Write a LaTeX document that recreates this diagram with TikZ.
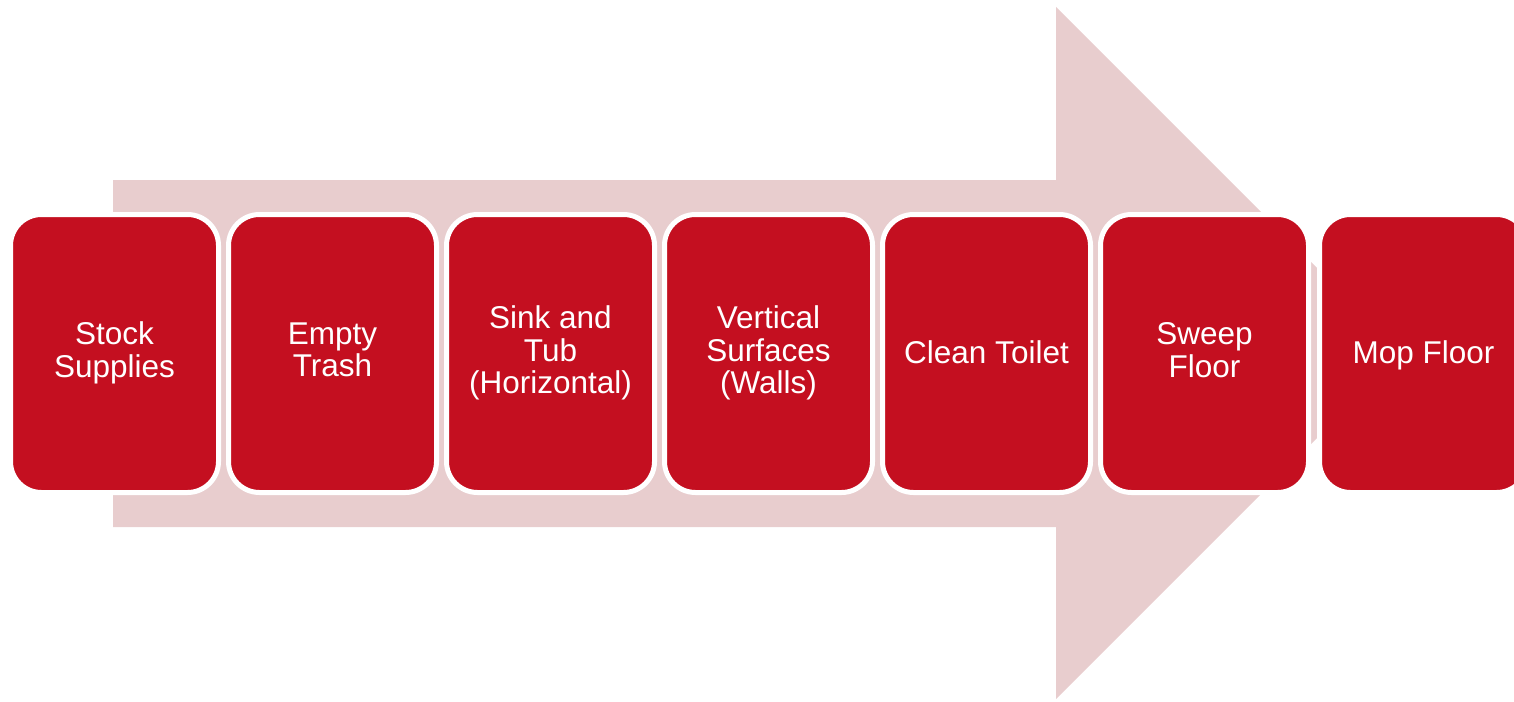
\documentclass[tikz,border=0pt]{standalone}
\usepackage{fontspec}
\setmainfont{Liberation Sans}
\definecolor{stepred}{RGB}{196,15,32}
\definecolor{arrowpink}{RGB}{232,205,206}
\newcommand{\boxstrut}{\rule[-7.4pt]{0pt}{35.4pt}}
\begin{document}
\begin{tikzpicture}[x=1pt,y=-1pt,
  stepbox/.style={draw=white,line width=5pt,fill=stepred,rounded corners=31pt,
    minimum width=208pt,minimum height=278pt,text=white,align=center,
    inner sep=0pt,font=\fontsize{31.5}{32.5}\selectfont,
    execute at begin node=\boxstrut, execute at end node=\boxstrut}]
\useasboundingbox (0,0) rectangle (1514,701);
\clip (0,0) rectangle (1514,701);
\fill[arrowpink] (113,180) -- (1056,180) -- (1056,7) -- (1402,353) -- (1056,699) -- (1056,527) -- (113,527) -- cycle;
\node[stepbox] (s1) at (114.5,353.5) {Stock\\Supplies};
\node[stepbox] (s2) at (332.5,353.5) {Empty\\Trash};
\node[stepbox] (s3) at (550.5,353.5) {Sink and\\Tub\\(Horizontal)};
\node[stepbox] (s4) at (768.5,353.5) {Vertical\\Surfaces\\(Walls)};
\node[stepbox] (s5) at (986.5,353.5) {Clean Toilet};
\node[stepbox] (s6) at (1204.5,353.5) {Sweep\\Floor};
\node[stepbox] (s7) at (1423.5,353.5) {Mop Floor};
\end{tikzpicture}
\end{document}
